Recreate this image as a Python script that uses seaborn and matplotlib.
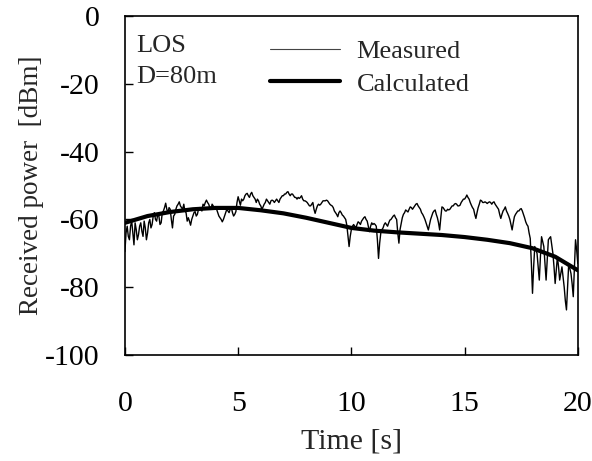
import numpy as np
import pandas as pd
import matplotlib
matplotlib.use("Agg")
import matplotlib.pyplot as plt
import seaborn as sns

# measured received power, samples at 0.0, 0.1, ... 20.0 s
t_meas_a = np.round(np.arange(0, 201) * 0.1, 2)
p_meas_a = [
    -69.5, -62, -66, -60.5, -67.5, -63, -64.5, -61, -65, -62.5,
    -64, -60, -61.5, -58, -60.5, -59, -61, -57.5, -55.2, -58,
    -57, -62.5, -58.5, -56, -54.8, -56.5, -55.5, -58, -59.5, -61.7,
    -59, -57.7, -58.5, -56.5, -57.5, -56, -54.3, -55.5, -57, -56,
    -56.3, -58, -59.5, -60.7, -59, -57, -58, -56.5, -59, -57.7,
    -53.3, -55.8, -54.5, -53, -52.3, -53.5, -52, -53.5, -55, -54.5,
    -56, -56.3, -55, -54.5, -55.5, -54.3, -55, -54, -55, -53.5,
    -53, -52.5, -51.8, -53, -52.5, -53.5, -54, -53.8, -53, -54.5,
    -54.7, -55.5, -56, -55, -58.2, -56, -55.8, -55, -54.5, -54.3,
    -55, -55.8, -56.5, -58, -59.2, -57.5, -58.7, -59.5, -61.7, -68,
    -63, -61.5, -62.5, -60.7, -61.5, -60, -59.2, -60.5, -63.6, -61,
    -61.2, -62, -71.5, -64, -62.5, -61, -62, -60.2, -59.5, -58.7,
    -60, -67, -61.2, -58.5, -57.2, -57.8, -56.3, -57, -56, -55.3,
    -56.5, -58, -59.2, -61, -63.1, -60, -58, -57.2, -59.5, -63.1,
    -56.3, -57, -57.5, -57.2, -56.5, -56, -55.3, -56, -55.8, -54.5,
    -54, -52.8, -54, -55.8, -57, -59.7, -56.5, -54.3, -55, -54.8,
    -55.3, -54.8, -55.5, -54.8, -56, -57, -59.7, -57.5, -56.3, -58.2,
    -60, -63.1, -59.2, -58, -57.5, -56.8, -58.5, -60.7, -62, -65.6,
    -81.8, -68, -70, -77.9, -65.1, -68, -77.9, -66, -65.1, -70,
    -78.9, -71, -77.9, -74, -80, -86.7, -73, -76, -82.8, -66,
    -73,
]

# in-between samples at 0.05, 0.15, ... 19.95 s
t_meas_b = np.round(np.arange(0, 200) * 0.1 + 0.05, 2)
p_meas_b = [
    -64, -65, -62, -64, -61, -66, -62, -63.5, -60.5, -66,
    -61, -62.5, -59, -60, -58.5, -61.5, -58, -56.5, -57, -56.5,
    -60, -59, -57, -55.5, -56, -57, -57.5, -60.5, -60.5, -60,
    -58, -59, -57, -57, -55.5, -55, -55, -56.5, -55.5, -57,
    -57, -59, -60, -60, -58, -57.5, -57, -58, -58.5, -55,
    -54.5, -54, -54, -52.5, -53, -52.5, -53, -54, -54, -55.5,
    -57, -55.5, -54, -55, -54.5, -54.5, -54.5, -54.5, -54, -53,
    -52.5, -52, -52.5, -52.5, -53, -53.5, -53.5, -53.5, -54, -54.5,
    -55, -56, -55.5, -57, -57, -55.5, -55.5, -54.5, -54.5, -54.5,
    -55.5, -56, -57.5, -58.5, -58, -58, -59, -60, -65, -65,
    -62, -62, -61.5, -61, -60.5, -59.5, -60, -62, -62, -61.5,
    -61.5, -66, -67, -63, -61.5, -61.5, -61, -60, -59, -59.5,
    -64, -63, -59.5, -58, -57.5, -57, -56.5, -56.5, -55.5, -56,
    -57, -58.5, -60, -62, -61.5, -59, -57.5, -58.5, -61, -59.5,
    -56.5, -57.5, -57, -57, -56, -55.5, -55.5, -56, -55, -54,
    -53.5, -53.5, -55, -56.5, -58.5, -58, -55.5, -54.5, -55, -55,
    -55, -55, -55, -55.5, -56.5, -58.5, -58.5, -57, -57.5, -59,
    -61.5, -61, -58.5, -57.5, -57, -57.5, -59.5, -61.5, -64, -73,
    -74, -69, -74, -71, -66.5, -73, -72, -65.5, -67.5, -74,
    -75, -74, -76, -77, -84, -80, -74.5, -79, -74, -69,
]

# calculated received power, 1 s steps
t_calc = list(range(0, 21))
p_calc = [-61, -59, -57.8, -57, -56.6, -56.6, -57.3, -58.2, -59.5, -61,
          -62.5, -63.3, -63.8, -64.2, -64.6, -65.2, -66, -67, -68.5, -71, -75]

meas = pd.DataFrame({"t": np.concatenate([t_meas_a, t_meas_b]),
                     "p": p_meas_a + p_meas_b}).sort_values("t")
calc = pd.DataFrame({"t": t_calc, "p": p_calc})

sns.set_style("ticks")
plt.rcParams["font.family"] = ["Liberation Serif", "DejaVu Serif"]
plt.rcParams["axes.unicode_minus"] = False

fig = plt.figure(figsize=(5.92, 4.61), dpi=100)
ax = fig.add_axes([0.211, 0.230, 0.765, 0.735])

sns.lineplot(data=meas, x="t", y="p", ax=ax, color="black", lw=1.0,
             sort=False, estimator=None, label="Measured")
sns.lineplot(data=calc, x="t", y="p", ax=ax, color="black", lw=3, label="Calculated")

ax.set_xlim(0, 20)
ax.set_ylim(-100, 0)
ax.set_xticks([0, 5, 10, 15, 20])
ax.set_yticks([-100, -80, -60, -40, -20, 0])
ax.tick_params(direction="in", length=6, width=1, labelsize=21.5, colors="black")
ax.tick_params(axis="x", pad=26)
ax.tick_params(axis="y", pad=18)
for s in ax.spines.values():
    s.set_color("black")
    s.set_linewidth(1.2)

ax.set_xlabel("Time [s]", fontsize=21.5, labelpad=8)
ax.set_ylabel("Received power  [dBm]", fontsize=19.5, labelpad=1)

ax.text(0.025, 0.913, "LOS", transform=ax.transAxes, fontsize=19, va="center")
ax.text(0.025, 0.82, "D=80m", transform=ax.transAxes, fontsize=19, va="center")

leg = ax.legend(loc="upper left", bbox_to_anchor=(0.267, 1.0), frameon=False, fontsize=19,
                handlelength=2.65, handletextpad=0.64, labelspacing=0.33)
leg.get_lines()[0].set_linewidth(0.8)
leg.get_lines()[0].set_color("#444444")

fig.savefig("out.png", dpi=100)
